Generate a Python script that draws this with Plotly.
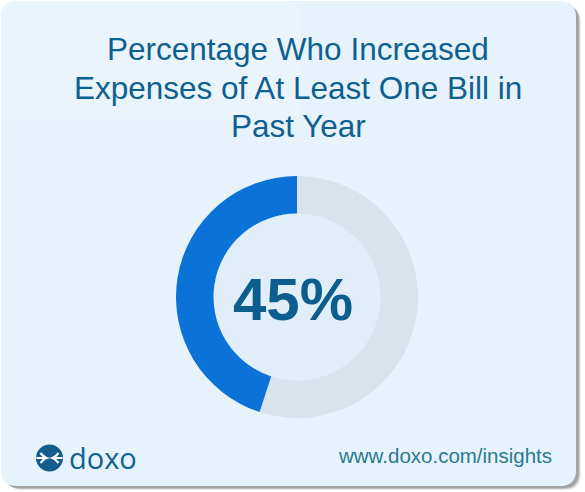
import plotly.graph_objects as go

# ---- data -------------------------------------------------------------
categories = ["Did not increase", "Increased expenses of at least one bill"]
shares = [55, 45]
title_lines = ["Percentage Who Increased",
               "Expenses of At Least One Bill in",
               "Past Year"]
brand_name = "doxo"
source_url = "www.doxo.com/insights"

# ---- styling ----------------------------------------------------------
W, H = 585, 492
CARD_BG = "#e7f3fc"
HOLE_BG = "#e1edf8"
RING_BLUE = "#0b72d8"
RING_GREY = "#d9e3ec"
TITLE_COLOR = "#0f5f8f"
BIG_COLOR = "#0b5e8e"
URL_COLOR = "#2a7a8e"
FONT = "Liberation Sans, Arial, sans-serif"

cx, cy, r_out = 297, 297, 121
hole_ratio = 0.69


def rounded_rect(x0, y0, x1, y1, r):
    return (f"M {x0+r},{y0} L {x1-r},{y0} Q {x1},{y0} {x1},{y0+r} "
            f"L {x1},{y1-r} Q {x1},{y1} {x1-r},{y1} L {x0+r},{y1} "
            f"Q {x0},{y1} {x0},{y1-r} L {x0},{y0+r} Q {x0},{y0} {x0+r},{y0} Z")


fig = go.Figure()

# invisible pixel-space axes for card, logo and text
fig.add_trace(go.Scatter(x=[0, W], y=[0, H], mode="markers",
                         marker=dict(opacity=0), hoverinfo="skip",
                         showlegend=False))

# donut: grey remainder runs clockwise from 12 o'clock, blue share fills the left
fig.add_trace(go.Pie(
    labels=categories, values=shares, sort=False,
    direction="counterclockwise", rotation=0,
    hole=hole_ratio, textinfo="none", hoverinfo="label+percent",
    marker=dict(colors=[RING_GREY, RING_BLUE], line=dict(width=0)),
    domain=dict(x=[(cx - r_out) / W, (cx + r_out) / W],
                y=[(H - cy - r_out) / H, (H - cy + r_out) / H]),
    showlegend=False,
))

shapes = []
# card shadow, soft layered
for i, op in enumerate([0.10, 0.14, 0.20, 0.28]):
    d = 5 - i
    shapes.append(dict(type="path", xref="x", yref="y", layer="below",
                       path=rounded_rect(2 + d, 2 + d, 577 + d * 0.8, 487 + d * 0.6, 16),
                       fillcolor=f"rgba(90,90,90,{op})", line=dict(width=0)))
# card
shapes.append(dict(type="path", xref="x", yref="y", layer="below",
                   path=rounded_rect(1, 1, 576, 486, 16),
                   fillcolor=CARD_BG, line=dict(width=0)))
# lighter top-left wash
shapes.append(dict(type="path", xref="x", yref="y", layer="below",
                   path=rounded_rect(1, 1, 300, 120, 16),
                   fillcolor="rgba(255,255,255,0.12)", line=dict(width=0)))
# donut centre fill
r_in = r_out * hole_ratio
shapes.append(dict(type="circle", xref="x", yref="y", layer="below",
                   x0=cx - r_in, x1=cx + r_in, y0=cy - r_in, y1=cy + r_in,
                   fillcolor=HOLE_BG, line=dict(width=0)))

# brand mark: round badge with converging arrows
lx, ly, lr = 49.5, 458, 13.5
shapes.append(dict(type="circle", xref="x", yref="y",
                   x0=lx - lr, x1=lx + lr, y0=ly - lr, y1=ly + lr,
                   fillcolor="#125d8c", line=dict(width=0)))
arrow_path = (f"M {lx-13},{ly} L {lx-4},{ly} "
              f"M {lx-9},{ly-5} Q {lx-6},{ly-1} {lx-3},{ly} Q {lx-6},{ly+1} {lx-9},{ly+5} "
              f"M {lx+13},{ly} L {lx+4},{ly} "
              f"M {lx+9},{ly-5} Q {lx+6},{ly-1} {lx+3},{ly} Q {lx+6},{ly+1} {lx+9},{ly+5}")
shapes.append(dict(type="path", xref="x", yref="y", path=arrow_path,
                   line=dict(color="white", width=2.2)))

annotations = []
title_centres = [49, 88, 126]
for line, yc in zip(title_lines, title_centres):
    annotations.append(dict(x=298, y=yc, xref="x", yref="y", text=line,
                            showarrow=False, xanchor="center", yanchor="middle",
                            font=dict(family=FONT, size=31.5, color=TITLE_COLOR)))

annotations.append(dict(x=293, y=299, xref="x", yref="y",
                        text=f"<b>{shares[1]}%</b>", showarrow=False,
                        xanchor="center", yanchor="middle",
                        font=dict(family=FONT, size=60, color=BIG_COLOR)))

annotations.append(dict(x=67, y=457, xref="x", yref="y", text=brand_name,
                        showarrow=False, xanchor="left", yanchor="middle",
                        font=dict(family="Open Sans, sans-serif", size=29,
                                  color="#13618f")))

annotations.append(dict(x=554, y=455, xref="x", yref="y", text=source_url,
                        showarrow=False, xanchor="right", yanchor="middle",
                        font=dict(family=FONT, size=20.5, color=URL_COLOR)))

fig.update_layout(
    width=W, height=H,
    margin=dict(l=0, r=0, t=0, b=0),
    paper_bgcolor="white", plot_bgcolor="rgba(0,0,0,0)",
    xaxis=dict(range=[0, W], visible=False, fixedrange=True),
    yaxis=dict(range=[H, 0], visible=False, fixedrange=True),
    shapes=shapes, annotations=annotations,
    showlegend=False,
)

fig.write_html("out.html")
